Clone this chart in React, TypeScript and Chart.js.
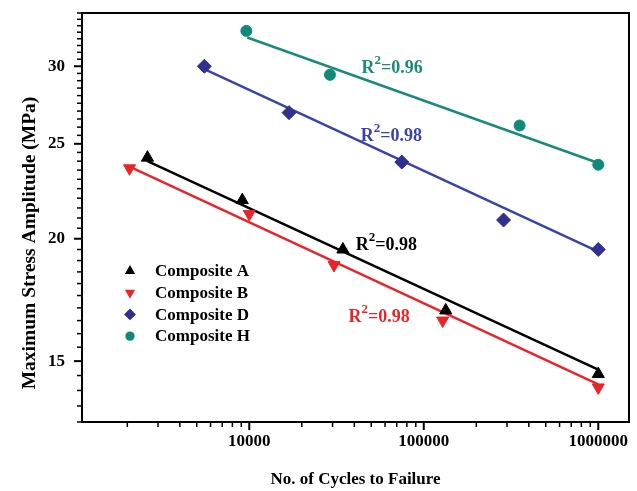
import React, { useEffect, useRef } from "react";
import { Chart, registerables } from "chart.js";

Chart.register(...registerables);

// ---- data ----
const compAx = [2610, 9120, 34400, 133600, 1000000];
const compAy = [24.2, 21.9, 19.5, 16.9, 14.55];
const compBx = [2060, 10000, 30600, 128400, 1000000];
const compBy = [23.6, 21.2, 18.8, 16.5, 14.1];
const compDx = [5530, 16900, 74800, 286600, 1000000];
const compDy = [30.0, 26.9, 23.95, 20.9, 19.5];
const compHx = [9620, 29000, 354000, 1000000];
const compHy = [32.6, 29.4, 26.1, 23.8];

// fitted trend lines (end points)
const fitAx = [2610, 1000000];
const fitAy = [24.0, 14.7];
const fitBx = [2060, 1000000];
const fitBy = [23.7, 14.2];
const fitDx = [5530, 1000000];
const fitDy = [29.8, 19.4];
const fitHx = [9740, 1000000];
const fitHy = [32.1, 23.9];

const seriesNames = ["Composite A", "Composite B", "Composite D", "Composite H"];
const r2Labels = ["0.98", "0.98", "0.98", "0.96"];
// anchor of each R² label (left edge, vertical centre) in data units
const r2AnchorX = [40800, 37000, 43500, 44000];
const r2AnchorY = [19.8, 16.7, 25.6, 30.0];

const xMajorTicks = [10000, 100000, 1000000];
const yMajorTicks = [15, 20, 25, 30];

const X_MIN = 1100;
const X_MAX = 1500000;
const Y_MIN = 13;
const Y_MAX = 34;

const COLORS = {
  A: "#000000",
  B: "#e8262a",
  D: "#2e3190",
  Dline: "#3a44a8",
  H: "#0f8a7a",
  Hline: "#1a8b7b",
};

const FONT = '"Liberation Serif", "Times New Roman", serif';

function pts(xs: number[], ys: number[]) {
  return xs.map((x, i) => ({ x, y: ys[i] }));
}

function xTickValues() {
  const out: number[] = [];
  for (let d = 1000; d <= 1000000; d *= 10) {
    for (let m = 1; m <= 9; m++) {
      const v = d * m;
      if (v >= X_MIN && v <= X_MAX) out.push(v);
    }
  }
  return out;
}

function yTickValues() {
  const out: number[] = [];
  for (let v = Y_MIN; v <= Y_MAX + 1e-9; v += 0.5) out.push(Math.round(v * 10) / 10);
  return out;
}

const markerStyles = [
  { style: "triangle", rot: 0, color: COLORS.A, r: 7 },
  { style: "triangle", rot: 180, color: COLORS.B, r: 7 },
  { style: "rectRot", rot: 0, color: COLORS.D, r: 7 },
  { style: "circle", rot: 0, color: COLORS.H, r: 5.5 },
];

function drawMarker(ctx: any, style: string, rot: number, r: number, x: number, y: number) {
  ctx.save();
  ctx.translate(x, y);
  ctx.rotate((rot * Math.PI) / 180);
  ctx.beginPath();
  if (style === "triangle") {
    for (let k = 0; k < 3; k++) {
      const a = (k * 2 * Math.PI) / 3;
      const px = Math.sin(a) * r;
      const py = -Math.cos(a) * r;
      if (k === 0) ctx.moveTo(px, py);
      else ctx.lineTo(px, py);
    }
    ctx.closePath();
  } else if (style === "rectRot") {
    ctx.moveTo(-r, 0);
    ctx.lineTo(0, -r);
    ctx.lineTo(r, 0);
    ctx.lineTo(0, r);
    ctx.closePath();
  } else {
    ctx.arc(0, 0, r, 0, Math.PI * 2);
  }
  ctx.fill();
  ctx.restore();
}

const decorPlugin = {
  id: "decor",
  afterDraw(chart: any) {
    const ctx = chart.ctx;
    const area = chart.chartArea;
    const xs = chart.scales.x;
    const ys = chart.scales.y;
    ctx.save();
    // frame
    ctx.strokeStyle = "#000";
    ctx.lineWidth = 2;
    ctx.strokeRect(area.left, area.top, area.right - area.left, area.bottom - area.top);
    // x ticks
    xs.ticks.forEach((t: any) => {
      const px = xs.getPixelForValue(t.value);
      const major = xMajorTicks.includes(t.value);
      ctx.lineWidth = major ? 2 : 1.5;
      ctx.beginPath();
      ctx.moveTo(px, area.bottom);
      ctx.lineTo(px, area.bottom + (major ? 8 : 5));
      ctx.stroke();
    });
    // y ticks
    ys.ticks.forEach((t: any) => {
      const py = ys.getPixelForValue(t.value);
      const major = yMajorTicks.includes(t.value);
      ctx.lineWidth = major ? 2 : 1.5;
      ctx.beginPath();
      ctx.moveTo(area.left, py);
      ctx.lineTo(area.left - (major ? 8 : 5), py);
      ctx.stroke();
    });
    // axis titles
    ctx.fillStyle = "#000";
    ctx.font = `bold 17px ${FONT}`;
    ctx.textAlign = "center";
    ctx.textBaseline = "middle";
    ctx.fillText("No. of Cycles to Failure", (area.left + area.right) / 2, 480);
    ctx.save();
    ctx.translate(30, 243);
    ctx.rotate(-Math.PI / 2);
    ctx.font = `bold 19.5px ${FONT}`;
    ctx.fillText("Maximum Stress Amplitude (MPa)", 0, 0);
    ctx.restore();

    // legend
    const legX = 130;
    const legY0 = 271;
    const legDy = 21.7;
    ctx.font = `bold 17px ${FONT}`;
    ctx.textAlign = "left";
    ctx.textBaseline = "middle";
    seriesNames.forEach((name, i) => {
      const m = markerStyles[i];
      const y = legY0 + i * legDy;
      ctx.fillStyle = m.color;
      drawMarker(ctx, m.style, m.rot, m.r * 0.85, legX, y);
      ctx.fillStyle = "#000";
      ctx.fillText(name, 155, y + 1);
    });

    // R² labels
    const r2Colors = [COLORS.A, COLORS.B, COLORS.Dline, COLORS.Hline];
    r2Labels.forEach((lab, i) => {
      const px = xs.getPixelForValue(r2AnchorX[i]);
      const py = ys.getPixelForValue(r2AnchorY[i]);
      ctx.fillStyle = r2Colors[i];
      ctx.textAlign = "left";
      ctx.textBaseline = "alphabetic";
      ctx.font = `bold 18px ${FONT}`;
      const base = py + 7;
      ctx.fillText("R", px, base);
      const wR = ctx.measureText("R").width;
      ctx.font = `bold 13px ${FONT}`;
      ctx.fillText("2", px + wR, base - 9);
      const w2 = ctx.measureText("2").width;
      ctx.font = `bold 18px ${FONT}`;
      ctx.fillText("=" + lab, px + wR + w2, base);
    });
    ctx.restore();
  },
};

export default function App() {
  const ref = useRef<HTMLCanvasElement | null>(null);

  useEffect(() => {
    if (!ref.current) return;
    const lineDs = (xs: number[], ys: number[], color: string) => ({
      data: pts(xs, ys),
      showLine: true,
      borderColor: color,
      borderWidth: 2.5,
      pointRadius: 0,
      fill: false,
      order: 2,
    });
    const ptDs = (xs: number[], ys: number[], i: number) => {
      const m = markerStyles[i];
      return {
        label: seriesNames[i],
        data: pts(xs, ys),
        showLine: false,
        pointStyle: m.style,
        pointRotation: m.rot,
        pointRadius: m.r,
        pointBackgroundColor: m.color,
        pointBorderColor: m.color,
        pointBorderWidth: 1,
        order: 1,
      };
    };
    const chart = new Chart(ref.current, {
      type: "scatter",
      data: {
        datasets: [
          lineDs(fitAx, fitAy, COLORS.A),
          lineDs(fitBx, fitBy, COLORS.B),
          lineDs(fitDx, fitDy, COLORS.Dline),
          lineDs(fitHx, fitHy, COLORS.Hline),
          ptDs(compAx, compAy, 0),
          ptDs(compBx, compBy, 1),
          ptDs(compDx, compDy, 2),
          ptDs(compHx, compHy, 3),
        ] as any,
      },
      options: {
        animation: false,
        responsive: false,
        devicePixelRatio: 1,
        layout: { padding: { top: 13, right: 7, left: 0, bottom: 0 } },
        plugins: {
          legend: { display: false },
          tooltip: { enabled: false },
        },
        scales: {
          x: {
            type: "logarithmic",
            min: X_MIN,
            max: X_MAX,
            grid: { display: false },
            border: { display: false },
            afterBuildTicks: (scale: any) => {
              scale.ticks = xTickValues().map((v) => ({ value: v, major: xMajorTicks.includes(v) }));
            },
            afterFit: (scale: any) => {
              scale.height = 69;
              scale.paddingLeft = 0;
              scale.paddingRight = 0;
            },
            ticks: {
              autoSkip: false,
              maxRotation: 0,
              minRotation: 0,
              padding: 1,
              color: "#000",
              font: { family: FONT, size: 17, weight: "bold" },
              callback: (v: any) => (xMajorTicks.includes(Number(v)) ? String(v) : ""),
            },
          },
          y: {
            type: "logarithmic",
            min: Y_MIN,
            max: Y_MAX,
            grid: { display: false },
            border: { display: false },
            afterBuildTicks: (scale: any) => {
              scale.ticks = yTickValues().map((v) => ({ value: v, major: yMajorTicks.includes(v) }));
            },
            afterFit: (scale: any) => {
              scale.width = 82;
              scale.paddingTop = 0;
              scale.paddingBottom = 0;
            },
            ticks: {
              autoSkip: false,
              padding: 9,
              color: "#000",
              font: { family: FONT, size: 17, weight: "bold" },
              callback: (v: any) => (yMajorTicks.includes(Number(v)) ? String(v) : ""),
            },
          },
        },
      } as any,
      plugins: [decorPlugin],
    });
    return () => chart.destroy();
  }, []);

  return (
    <div style={{ position: "absolute", left: 0, top: 0, width: 637, height: 491, background: "#fff" }}>
      <canvas ref={ref} width={637} height={491} style={{ width: 637, height: 491 }} />
    </div>
  );
}
